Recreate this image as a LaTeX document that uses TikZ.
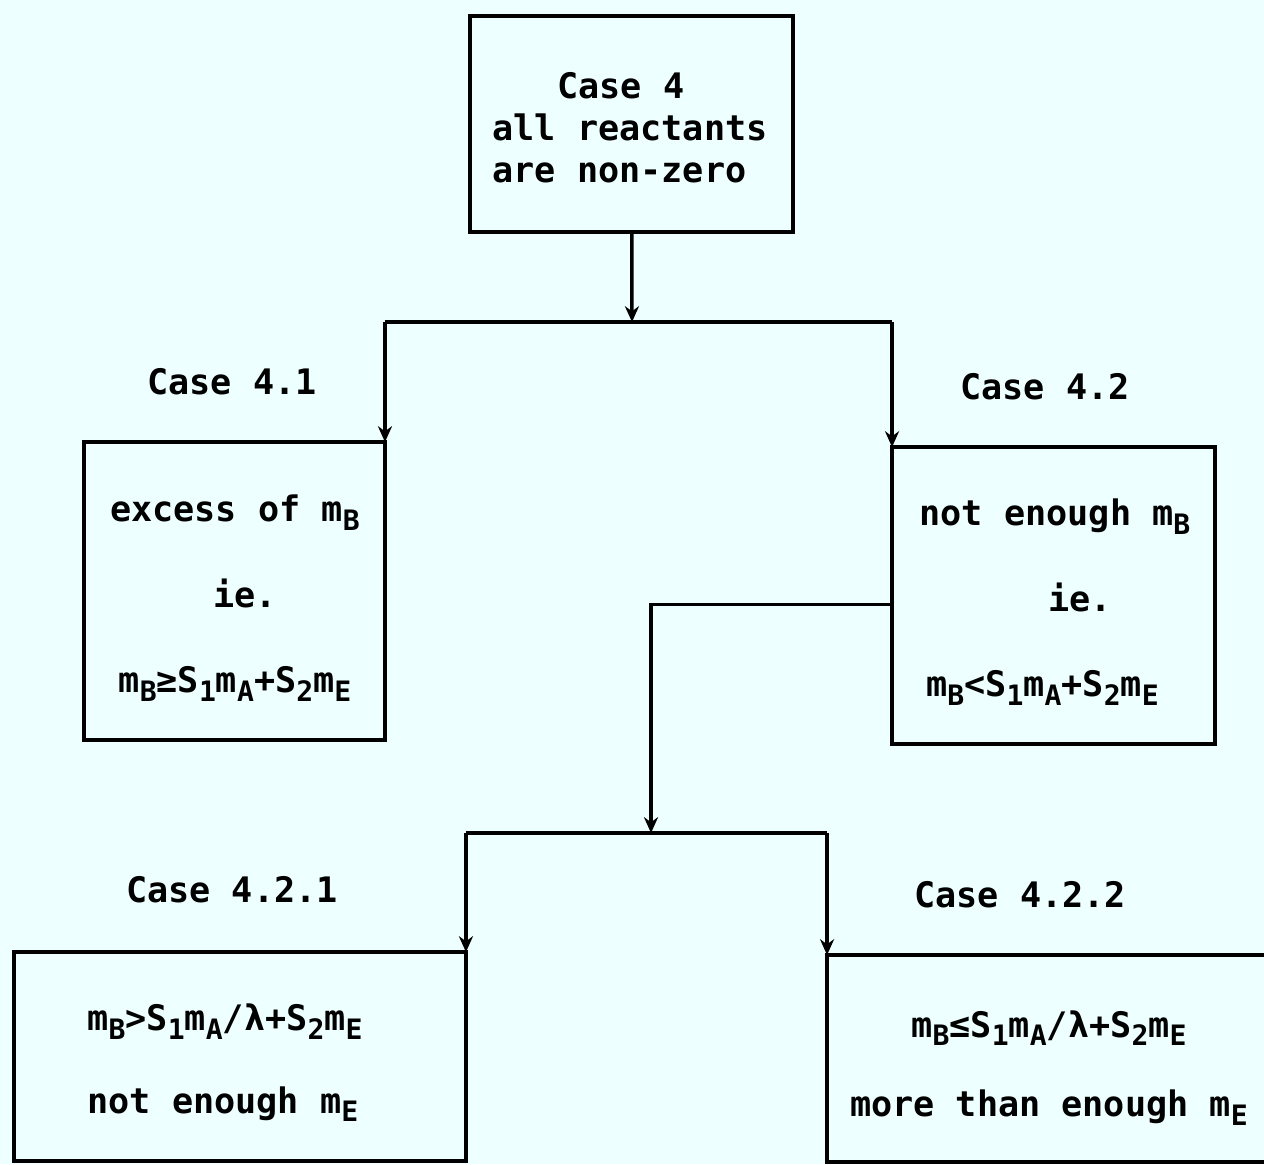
\documentclass[tikz,border=0pt]{standalone}
\usepackage{fontspec}
\setmainfont{DejaVu Sans Mono}
\usepackage{xcolor}
\usepackage{tikz}
\usetikzlibrary{arrows.meta}

\definecolor{paper}{HTML}{EEFFFF}
\newcommand{\sbs}[1]{\raisebox{-0.45ex}{\fontsize{16}{16}\selectfont #1}}

\tikzset{
	casebox/.style={draw, line width=2pt, inner sep=0pt, outer sep=0pt},
	boxtext/.style={inner sep=0pt, align=center},
	caselabel/.style={inner sep=0pt},
	flow/.style={line width=2pt},
	flowarrow/.style={flow, -{Stealth[length=9pt,width=8pt]}}
}

\begin{document}
\begin{tikzpicture}[x=0.02cm, y=-0.02cm, font=\fontsize{20}{24}\selectfont\bfseries]
			% page
			\fill[paper] (0,0) rectangle (1264,1164);
			\useasboundingbox (0,0) rectangle (1264,1164);

			% boxes
			\node[casebox, minimum width=6.46cm, minimum height=4.32cm] (c4) at (631.5,124) {};
			\node[casebox, minimum width=6.02cm, minimum height=5.96cm] (c41) at (234.5,591) {};
			\node[casebox, minimum width=6.46cm, minimum height=5.94cm] (c42) at (1053.5,595.5) {};
			\node[casebox, minimum width=9.04cm, minimum height=4.18cm] (c421) at (240,1056.5) {};
			\node[casebox, minimum width=8.8cm, minimum height=4.14cm] (c422) at (1047,1058.5) {};

			% box texts
			\node[boxtext, align=left] (t4) at (630,128)
			{\hspace*{1.3cm}Case 4\\ all reactants\\ are non-zero};
			\node[boxtext] (t41) at (235,598)
			{excess of m\sbs{B}\\[0.87cm] \hspace*{0.4cm}ie.\\[0.87cm] m\sbs{B}≥S\sbs{1}m\sbs{A}+S\sbs{2}m\sbs{E}};
			\node[boxtext] (t42) at (1055,602)
			{not enough m\sbs{B}\\[0.87cm] \hspace*{1cm}ie.\\[0.87cm] m\sbs{B}<S\sbs{1}m\sbs{A}+S\sbs{2}m\sbs{E}\hspace*{0.5cm}};
			\node[boxtext, align=left] (t421) at (225,1063)
			{m\sbs{B}>S\sbs{1}m\sbs{A}/λ+S\sbs{2}m\sbs{E}\\[0.8cm] not enough m\sbs{E}};
			\node[boxtext] (t422) at (1049,1068)
			{m\sbs{B}≤S\sbs{1}m\sbs{A}/λ+S\sbs{2}m\sbs{E}\\[0.75cm] more than enough m\sbs{E}};

			% labels
			\node[caselabel] (l41) at (232,382) {Case 4.1};
			\node[caselabel] (l42) at (1045,387) {Case 4.2};
			\node[caselabel] (l421) at (232,890) {Case 4.2.1};
			\node[caselabel] (l422) at (1020,895) {Case 4.2.2};

			% junctions
			\coordinate (j1) at (632,322);
			\coordinate (j2) at (651,833);

			% connectors
			\draw[flowarrow] (c4) -- (j1);
			\draw[flow] (c41.north east |- j1) -- (c42.north west |- j1);
			\draw[flowarrow] (c41.north east |- j1) -- (c41.north east);
			\draw[flowarrow] (c42.north west |- j1) -- (c42.north west);
			\draw[flowarrow] ([yshift=-0.18cm]c42.west) -| (j2);
			\draw[flow] (c421.north east |- j2) -- (c422.north west |- j2);
			\draw[flowarrow] (c421.north east |- j2) -- (c421.north east);
			\draw[flowarrow] (c422.north west |- j2) -- (c422.north west);
		\end{tikzpicture}
\end{document}
